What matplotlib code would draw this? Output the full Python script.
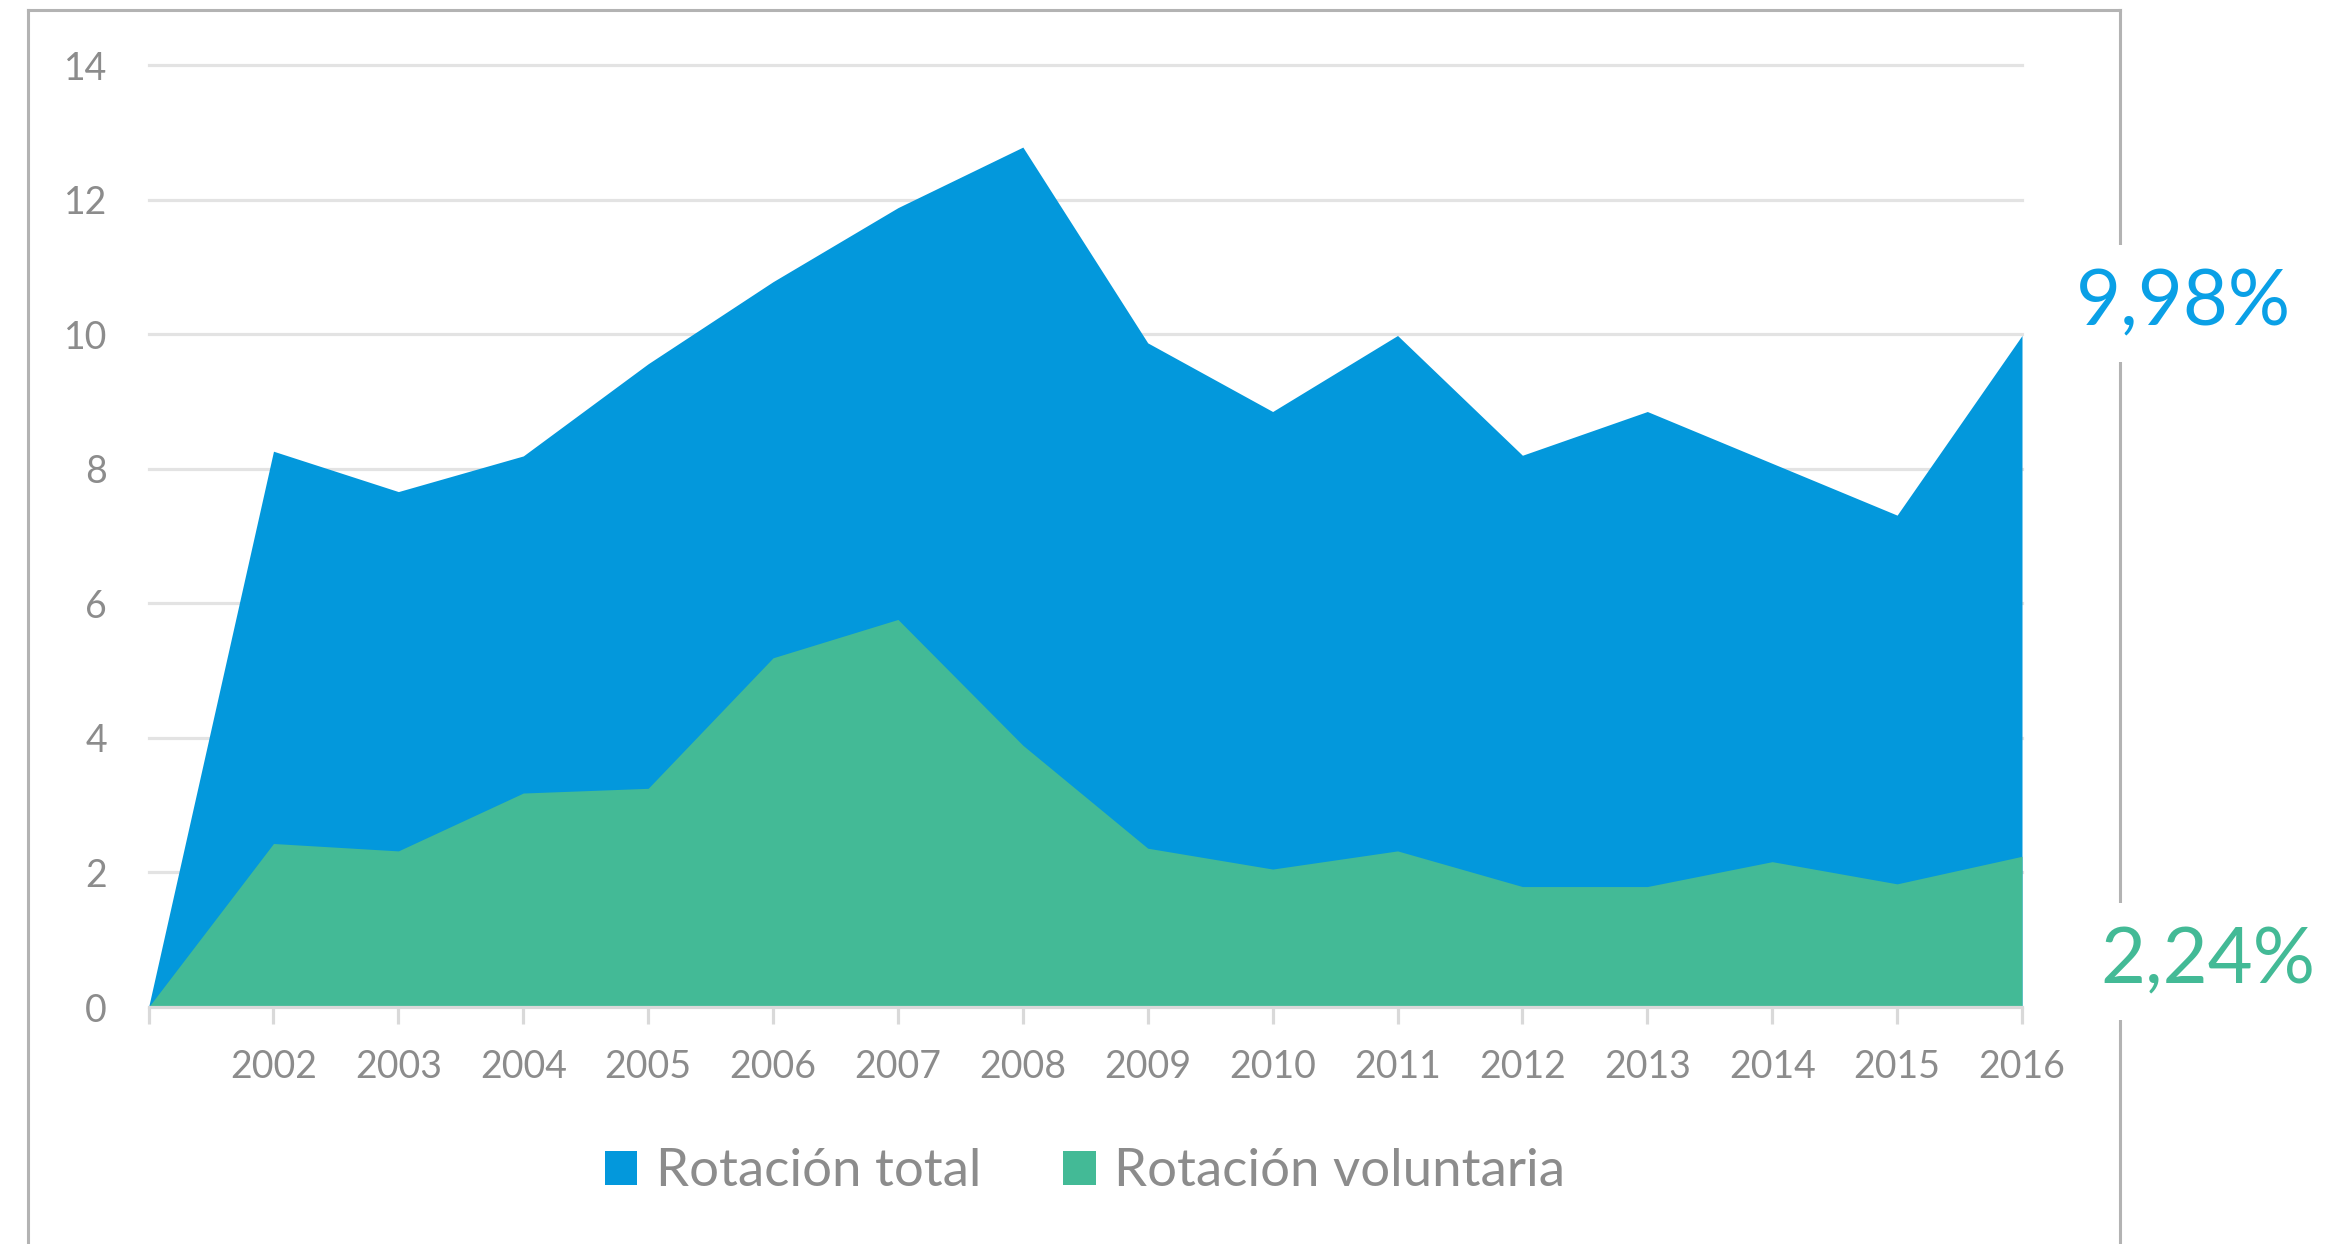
import matplotlib
matplotlib.use("Agg")
import matplotlib.pyplot as plt
from matplotlib.lines import Line2D
from matplotlib.patches import Patch

categories = ["", "2002", "2003", "2004", "2005", "2006", "2007", "2008",
              "2009", "2010", "2011", "2012", "2013", "2014", "2015", "2016"]
rotacion_total = [0, 8.26, 7.66, 8.19, 9.56, 10.78, 11.88, 12.78,
                  9.87, 8.85, 9.98, 8.20, 8.85, 8.08, 7.31, 9.98]
rotacion_voluntaria = [0, 2.43, 2.32, 3.18, 3.25, 5.19, 5.76, 3.89,
                       2.36, 2.05, 2.32, 1.79, 1.79, 2.16, 1.83, 2.24]
series_names = ["Rotación total", "Rotación voluntaria"]
yticks = [0, 2, 4, 6, 8, 10, 12, 14]
label_total = "9,98%"
label_vol = "2,24%"

BLUE = "#0398DC"
GREEN = "#43BA96"
GRAY_TXT = "#8C8C8C"
GRID = "#E3E3E3"

W, H = 2330, 1244
DPI = 100
plt.rcParams['font.family'] = ['Lato', 'DejaVu Sans']

fig = plt.figure(figsize=(W / DPI, H / DPI), dpi=DPI)
fig.patch.set_facecolor("white")

def fx(px):
    return px / W

def fy(py):
    return 1 - py / H

ax = fig.add_axes([fx(148.6), fy(1007), fx(2022) - fx(148.6), fy(65) - fy(1007)])
x = list(range(len(categories)))

for t in yticks[1:]:
    ax.axhline(t, color=GRID, lw=2.3, zorder=0, clip_on=False)

ax.fill_between(x, rotacion_total, 0, color=BLUE, lw=0, zorder=2)
ax.fill_between(x, rotacion_voluntaria, 0, color=GREEN, lw=0, zorder=3)

ax.set_xlim(0, len(categories) - 1)
ax.set_ylim(0, 14)
ax.set_yticks(yticks)
ax.set_yticklabels([str(v) for v in yticks])
ax.set_xticks(x)
ax.set_xticklabels(categories)

for s in ["top", "right", "left"]:
    ax.spines[s].set_visible(False)
ax.spines["bottom"].set_color("#D9D9D9")
ax.spines["bottom"].set_linewidth(2.3)
ax.spines["bottom"].set_zorder(4)
ax.tick_params(axis="x", colors="#D9D9D9", length=12, width=2.3, pad=18,
               labelcolor=GRAY_TXT, labelsize=27)
ax.tick_params(axis="y", length=0, pad=30, labelcolor=GRAY_TXT, labelsize=27)
ax.set_facecolor("none")

# outer frame
frame_kw = dict(color="#B3B3B3", lw=2.2, transform=fig.transFigure, zorder=1)
fig.add_artist(Line2D([fx(28), fx(2120)], [fy(10), fy(10)], **frame_kw))
fig.add_artist(Line2D([fx(28), fx(28)], [fy(10), fy(1250)], **frame_kw))
fig.add_artist(Line2D([fx(2120), fx(2120)], [fy(10), fy(1250)], **frame_kw))

# annotations
fig.text(fx(2076), fy(325), label_total, color="#0AA0E6", fontsize=56,
         ha="left", va="baseline", zorder=5,
         bbox=dict(facecolor="white", edgecolor="none", pad=16))
fig.text(fx(2100), fy(983), label_vol, color=GREEN, fontsize=56,
         ha="left", va="baseline", zorder=5,
         bbox=dict(facecolor="white", edgecolor="none", pad=16))

handles = [Patch(facecolor=BLUE, edgecolor="none"),
           Patch(facecolor=GREEN, edgecolor="none")]
leg = fig.legend(handles, series_names, loc="center", ncol=2,
                 bbox_to_anchor=(fx(1085), fy(1172)), frameon=False,
                 fontsize=38, handlelength=0.62, handleheight=0.64,
                 handletextpad=0.35, columnspacing=1.55)
for t in leg.get_texts():
    t.set_color(GRAY_TXT)

fig.savefig("out.png", dpi=DPI, facecolor="white")
